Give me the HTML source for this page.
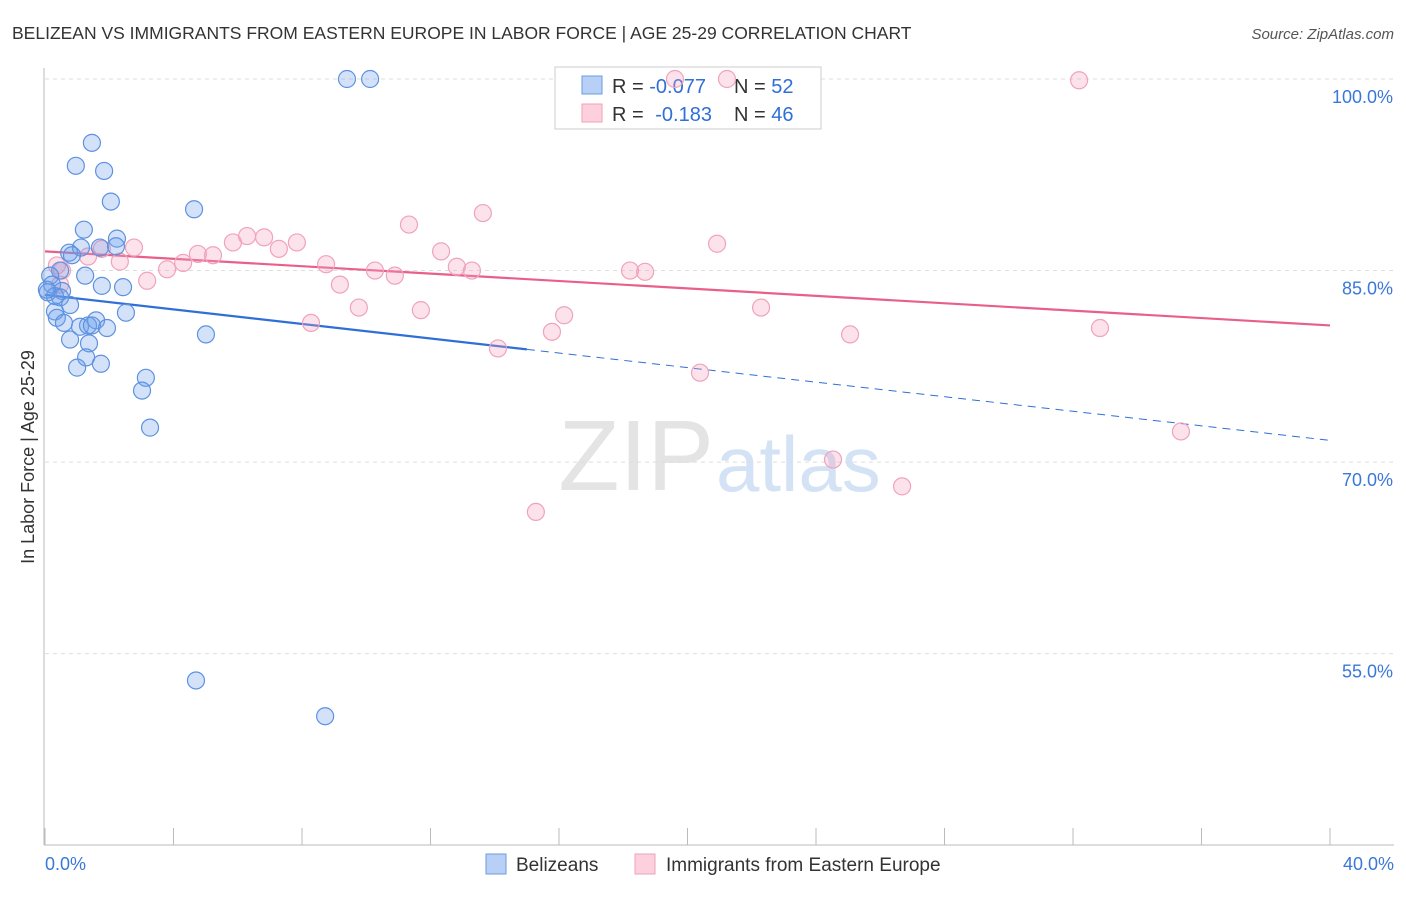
<!DOCTYPE html>
<html><head><meta charset="utf-8"><style>
body{margin:0;background:#fff;font-family:"Liberation Sans",sans-serif}
svg text{font-family:"Liberation Sans",sans-serif}
</style></head><body>
<svg id="chart" width="1406" height="892">
<text x="12" y="39" font-size="17.5" fill="#333">BELIZEAN VS IMMIGRANTS FROM EASTERN EUROPE IN LABOR FORCE | AGE 25-29 CORRELATION CHART</text>
<text x="1394" y="39" font-size="15" fill="#555" font-style="italic" text-anchor="end">Source: ZipAtlas.com</text>
<text x="714" y="490" font-size="100" fill="#e4e4e4" text-anchor="end" font-family="Liberation Serif">ZIP</text>
<text x="716" y="491" font-size="78" fill="#d4e2f5">atlas</text>
<g id="grid"></g><g id="axes"></g>
<g>
<rect x="555" y="67" width="266" height="62" fill="#fff" stroke="#ccc"/>
<rect x="582" y="76" width="20" height="18" fill="#b8d0f5" stroke="#6a9be0"/>
<rect x="582" y="104" width="20" height="18" fill="#fcd0dd" stroke="#f0a0b8"/>
<text x="612" y="93" font-size="20" fill="#333">R = <tspan fill="#2f6fd6">-0.077</tspan><tspan x="734">N = </tspan><tspan fill="#2f6fd6">52</tspan></text>
<text x="612" y="121" font-size="20" fill="#333">R = <tspan fill="#2f6fd6" dx="6">-0.183</tspan><tspan x="734">N = </tspan><tspan fill="#2f6fd6">46</tspan></text>
</g>
<g id="trend"></g><g id="pts"></g>
<text transform="translate(34,457) rotate(-90)" font-size="18" fill="#333" text-anchor="middle">In Labor Force | Age 25-29</text>
<g>
<rect x="486" y="854" width="20" height="20" fill="#b8d0f5" stroke="#6a9be0"/>
<text x="516" y="871" font-size="19" fill="#333">Belizeans</text>
<rect x="635" y="854" width="20" height="20" fill="#fcd0dd" stroke="#f0a0b8"/>
<text x="666" y="871" font-size="19" fill="#333">Immigrants from Eastern Europe</text>
</g>
</svg>
<script>
const xTicks=[0,4,8,12,16,20,24,28,32,36,40];
const yTicks=[55,70,85,100];
const yTickLabels=["55.0%","70.0%","85.0%","100.0%"];
const xLabels=["0.0%","40.0%"];
const blueX=[9.40,10.12,1.46,0.96,1.84,2.05,4.64,1.21,2.24,1.12,2.21,0.75,0.84,1.71,1.25,0.47,0.16,0.22,1.77,2.43,0.53,0.09,0.47,0.78,0.31,2.52,0.37,0.59,1.09,1.34,1.59,1.46,1.93,0.78,1.37,5.01,1.28,1.00,1.74,3.14,3.02,3.27,4.70,8.72,0.31,0.06];
const blueY=[100,100,95.0,93.2,92.8,90.4,89.8,88.2,87.5,86.8,86.9,86.4,86.2,86.8,84.6,85.0,84.6,83.9,83.8,83.7,83.4,83.3,82.9,82.3,81.8,81.7,81.3,80.9,80.6,80.7,81.1,80.7,80.5,79.6,79.3,80.0,78.2,77.4,77.7,76.6,75.6,72.7,52.9,50.1,83.0,83.5];
const pinkX=[19.61,21.23,32.19,13.63,11.33,6.29,6.82,5.85,7.84,20.92,12.33,5.23,4.76,2.77,1.77,1.34,2.33,4.30,7.28,8.75,12.82,13.29,10.27,10.89,3.80,3.18,0.53,0.37,9.18,18.21,18.68,9.77,11.70,22.29,8.28,16.16,15.78,32.84,25.06,14.10,20.39,35.36,24.53,26.68,15.28,0.47];
const pinkY=[100,100,99.9,89.5,88.6,87.7,87.6,87.2,87.2,87.1,86.5,86.2,86.3,86.8,86.7,86.1,85.7,85.6,86.7,85.5,85.3,85.0,85.0,84.6,85.1,84.2,85.0,85.4,83.9,85.0,84.9,82.1,81.9,82.1,80.9,81.5,80.2,80.5,80.0,78.9,77.0,72.4,70.2,68.1,66.1,83.9];
const blueTrend=[83.1,71.7]; const blueSolidEnd=15;
const pinkTrend=[86.5,80.7];
const NS="http://www.w3.org/2000/svg";
const X=v=>45+v*32.125, Y=v=>79+(100-v)*12.77;
function mk(p,t,a){const e=document.createElementNS(NS,t);for(const k in a)e.setAttribute(k,a[k]);document.getElementById(p).appendChild(e);return e;}
yTicks.forEach((t,i)=>{
 const l=mk('grid','line',{x1:45,x2:1394,y1:Y(t),y2:Y(t),stroke:'#ddd','stroke-dasharray':'4,4'});
 
 
 const tx=mk('grid','text',{x:1393,y:Y(t)+24,'font-size':18,fill:'#3a78d8','text-anchor':'end'});
 tx.textContent=yTickLabels[i];
 
 
});
const ax=mk('axes','line',{x1:44,x2:44,y1:68,y2:845,stroke:'#bbb'});


const bx=mk('axes','line',{x1:44,x2:1394,y1:845,y2:845,stroke:'#bbb'});


xTicks.forEach(t=>{
 const l=mk('axes','line',{x1:X(t),x2:X(t),y1:828,y2:845,stroke:'#bbb'});
 
 
});
[[0,'start',45],[40,'end',1394]].forEach((d,i)=>{
 const tx=mk('axes','text',{x:d[2],y:870,'font-size':18,fill:'#3a78d8','text-anchor':d[1]});
 tx.textContent=xLabels[i];
 
 
});
function pts(xs,ys,fill,stroke,name){xs.forEach((x,i)=>{
 const c=mk('pts','circle',{cx:X(x),cy:Y(ys[i]),r:8.5,fill:fill,stroke:stroke,'stroke-width':1.2});
 
 
});}
pts(pinkX,pinkY,'rgba(245,160,190,0.3)','#f0a3bb','pink-point');
pts(blueX,blueY,'rgba(110,160,235,0.3)','#5e92e0','blue-point');
const by=x=>blueTrend[0]+(blueTrend[1]-blueTrend[0])*x/40;
const t1=mk('trend','line',{x1:X(0),y1:Y(by(0)),x2:X(blueSolidEnd),y2:Y(by(blueSolidEnd)),stroke:'#2f6fd6','stroke-width':2.2});


const t2=mk('trend','line',{x1:X(blueSolidEnd),y1:Y(by(blueSolidEnd)),x2:X(40),y2:Y(by(40)),stroke:'#2f6fd6','stroke-width':1,'stroke-dasharray':'8,6'});


const t3=mk('trend','line',{x1:X(0),y1:Y(pinkTrend[0]),x2:X(40),y2:Y(pinkTrend[1]),stroke:'#e8608a','stroke-width':2.2});


</script>
</body></html>
